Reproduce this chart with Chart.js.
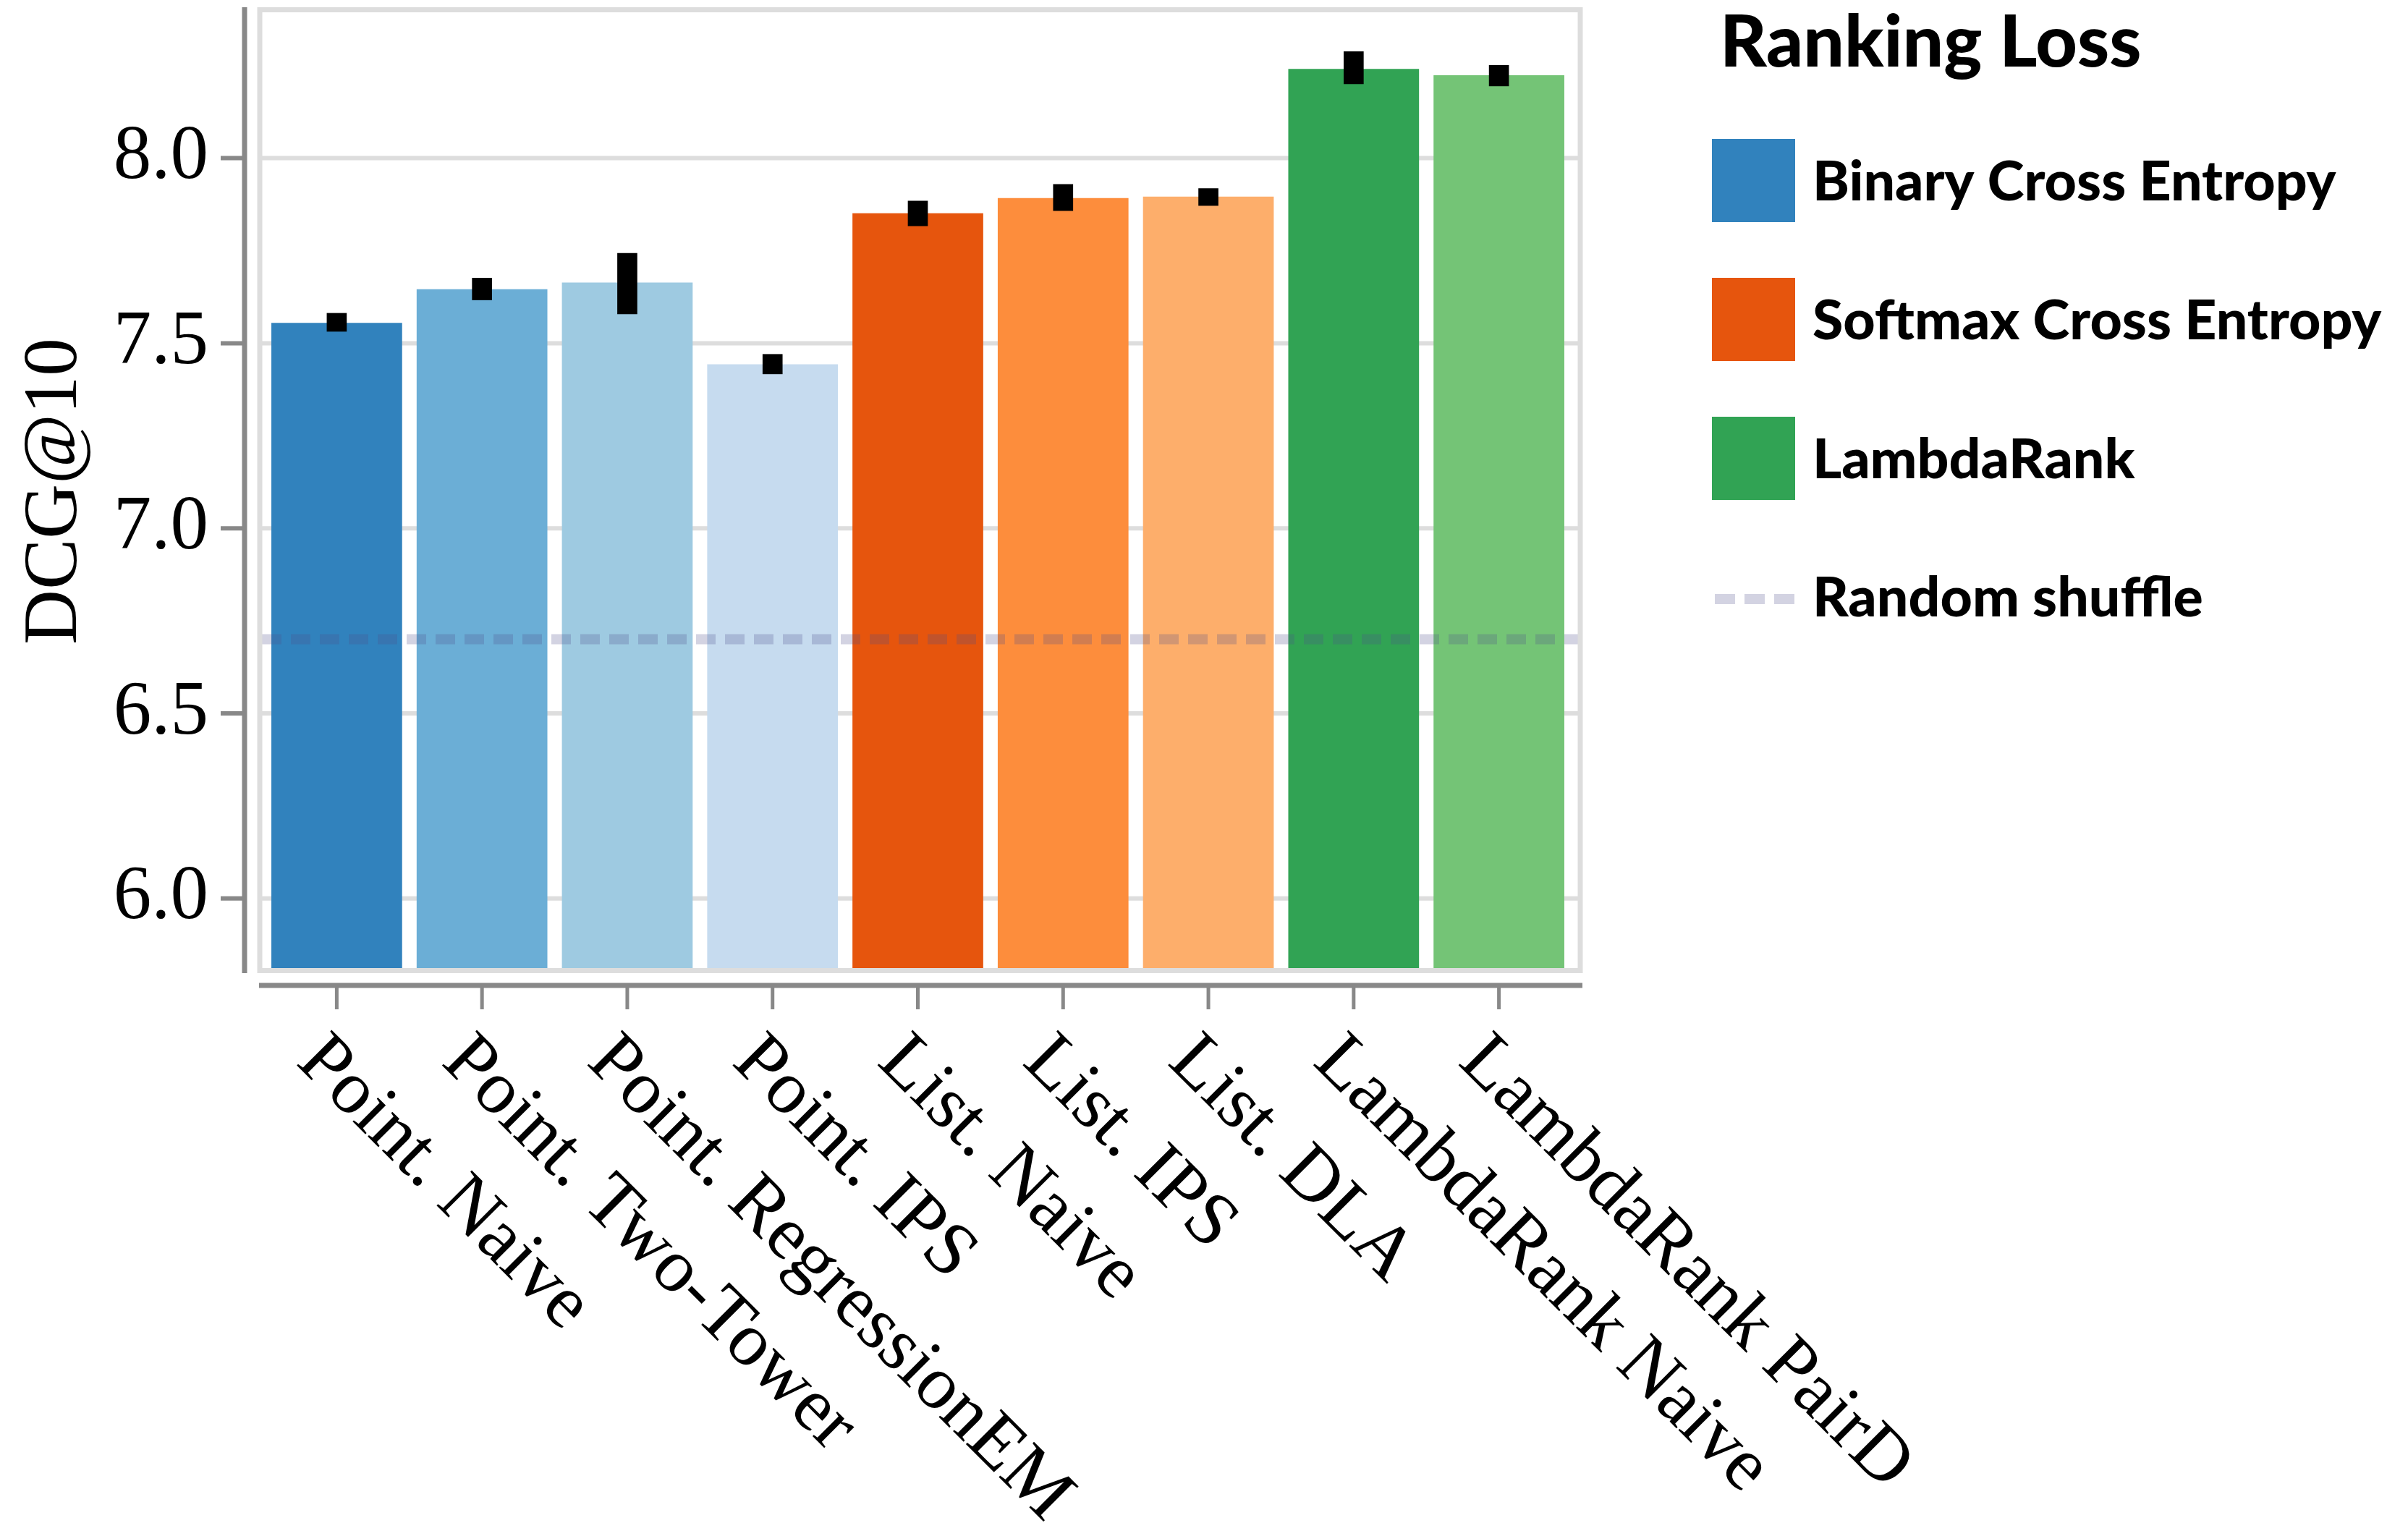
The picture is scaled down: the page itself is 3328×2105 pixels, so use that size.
<!DOCTYPE html>
<html>
<head>
<meta charset="utf-8">
<script src="https://cdn.jsdelivr.net/npm/chart.js@4/dist/chart.umd.min.js"></script>
<style>
  html, body { margin: 0; padding: 0; background: #fff; }
</style>
</head>
<body>
<canvas id="chart" width="3328" height="2105"></canvas>
<script>
const methods = [
  'Point. Naive', 'Point. Two-Tower', 'Point. RegressionEM', 'Point. IPS',
  'List. Naive', 'List. IPS', 'List. DLA', 'LambdaRank Naive', 'LambdaRank PairD'
]
const dcg = [7.555, 7.646, 7.664, 7.443, 7.851, 7.892, 7.896, 8.241, 8.224]
const errLow = [7.532, 7.617, 7.579, 7.417, 7.817, 7.858, 7.872, 8.201, 8.195]
const errHigh = [7.581, 7.676, 7.743, 7.470, 7.884, 7.929, 7.918, 8.288, 8.251]
const barColors = [
  '#3182bd', '#6baed6', '#9ecae1', '#c6dbef',
  '#e6550d', '#fd8d3c', '#fdae6b', '#31a354', '#74c476'
]
const randomShuffle = 6.70
const yTicks = [6.0, 6.5, 7.0, 7.5, 8.0]
const lossNames = ['Binary Cross Entropy', 'Softmax Cross Entropy', 'LambdaRank']
const lossColors = ['#3182bd', '#e6550d', '#31a354']

const SERIF = '"Liberation Serif", "Times New Roman", serif'
const SANS = 'Lato, "Open Sans", sans-serif'
const AXIS_GRAY = '#888888'
const GRID_GRAY = '#dddddd'
const SHUFFLE_COLOR = 'rgba(80, 80, 140, 0.25)'

// frame, offset axes, rotated labels and legend
const decor = {
  id: 'decor',
  beforeDatasetsDraw(chart) {
    const { ctx, chartArea: ca, scales: { y } } = chart
    ctx.save()
    ctx.strokeStyle = GRID_GRAY
    ctx.lineWidth = 6
    yTicks.forEach(v => {
      const py = y.getPixelForValue(v)
      ctx.beginPath()
      ctx.moveTo(ca.left - 6, py)
      ctx.lineTo(ca.right + 12, py)
      ctx.stroke()
    })
    ctx.restore()
  },
  afterDatasetsDraw(chart) {
    const { ctx, chartArea: ca, scales: { y } } = chart
    ctx.save()
    // random shuffle baseline
    const py = y.getPixelForValue(randomShuffle)
    ctx.strokeStyle = SHUFFLE_COLOR
    ctx.lineWidth = 14
    ctx.setLineDash([27, 13])
    ctx.beginPath()
    ctx.moveTo(ca.left - 3, py)
    ctx.lineTo(ca.right + 9, py)
    ctx.stroke()
    ctx.setLineDash([])
    // frame
    ctx.strokeStyle = GRID_GRAY
    ctx.lineWidth = 7
    ctx.strokeRect(ca.left - 6, ca.top - 0.5, ca.width + 18, ca.height - 2)
    ctx.restore()
  },
  afterDraw(chart) {
    const { ctx, chartArea: ca, scales: { x, y } } = chart
    ctx.save()
    ctx.strokeStyle = AXIS_GRAY
    // y axis
    ctx.lineWidth = 7
    ctx.beginPath()
    ctx.moveTo(ca.left - 27, ca.top - 4)
    ctx.lineTo(ca.left - 27, ca.bottom + 1)
    ctx.stroke()
    ctx.lineWidth = 6
    yTicks.forEach(v => {
      const py = y.getPixelForValue(v)
      ctx.beginPath()
      ctx.moveTo(ca.left - 60, py)
      ctx.lineTo(ca.left - 27, py)
      ctx.stroke()
    })
    // x axis
    const axisY = ca.bottom + 18
    ctx.lineWidth = 7
    ctx.beginPath()
    ctx.moveTo(ca.left - 7, axisY)
    ctx.lineTo(ca.right + 15, axisY)
    ctx.stroke()
    ctx.lineWidth = 5
    methods.forEach((m, i) => {
      const px = x.getPixelForValue(i)
      ctx.beginPath()
      ctx.moveTo(px, axisY + 3)
      ctx.lineTo(px, axisY + 33)
      ctx.stroke()
    })
    // rotated category labels
    ctx.fillStyle = '#000'
    ctx.font = '105px ' + SERIF
    ctx.textAlign = 'left'
    ctx.textBaseline = 'alphabetic'
    methods.forEach((m, i) => {
      ctx.save()
      ctx.translate(x.getPixelForValue(i) - 58, ca.bottom + 126)
      ctx.rotate(Math.PI / 4)
      ctx.fillText(m, 0, 0)
      ctx.restore()
    })
    // legend
    const lx = ca.right + 194
    ctx.font = '900 100px ' + SANS
    ctx.fillText('Ranking Loss', lx + 11, 92)
    ctx.font = '900 77px ' + SANS
    lossNames.forEach((name, i) => {
      ctx.fillStyle = lossColors[i]
      ctx.fillRect(lx, 192 + 192 * i, 115, 115)
      ctx.fillStyle = '#000'
      ctx.fillText(name, lx + 139, 277 + 192 * i)
    })
    ctx.strokeStyle = SHUFFLE_COLOR
    ctx.lineWidth = 14
    ctx.setLineDash([28, 13])
    ctx.beginPath()
    ctx.moveTo(lx + 4, 828)
    ctx.lineTo(lx + 117, 828)
    ctx.stroke()
    ctx.setLineDash([])
    ctx.fillText('Random shuffle', lx + 139, 852)
    ctx.restore()
  }
}

const ctx = document.getElementById('chart').getContext('2d')
new Chart(ctx, {
  type: 'bar',
  data: {
    labels: methods,
    datasets: [
      {
        label: 'DCG@10',
        data: dcg,
        backgroundColor: barColors,
        categoryPercentage: 1,
        barPercentage: 0.9,
        grouped: false,
        order: 1
      },
      {
        label: 'std',
        data: methods.map((m, i) => [errLow[i], errHigh[i]]),
        backgroundColor: '#000000',
        barThickness: 27,
        grouped: false,
        order: 0
      }
    ]
  },
  options: {
    responsive: false,
    animation: false,
    layout: { padding: { top: 14, right: 1156, left: 0, bottom: 0 } },
    plugins: {
      legend: { display: false },
      tooltip: { enabled: false }
    },
    scales: {
      x: {
        ticks: { display: false },
        grid: { display: false, drawTicks: false },
        border: { display: false },
        afterFit: s => {
          s.height = 761
          s.paddingLeft = 0
          s.paddingRight = 0
        }
      },
      y: {
        min: 5.8,
        max: 8.4,
        afterBuildTicks: s => { s.ticks = yTicks.map(v => ({ value: v })) },
        ticks: {
          padding: 77,
          color: '#000',
          font: { family: SERIF, size: 105 },
          callback: v => v.toFixed(1)
        },
        grid: { display: false, drawTicks: false },
        border: { display: false },
        title: {
          display: true,
          text: 'DCG@10',
          color: '#000',
          font: { family: SERIF, size: 105, lineHeight: 1.2 },
          padding: { top: 14, bottom: 0 }
        },
        afterFit: s => {
          s.width = 365
          s.paddingTop = 0
          s.paddingBottom = 0
        }
      }
    }
  },
  plugins: [decor]
})
</script>
</body>
</html>
